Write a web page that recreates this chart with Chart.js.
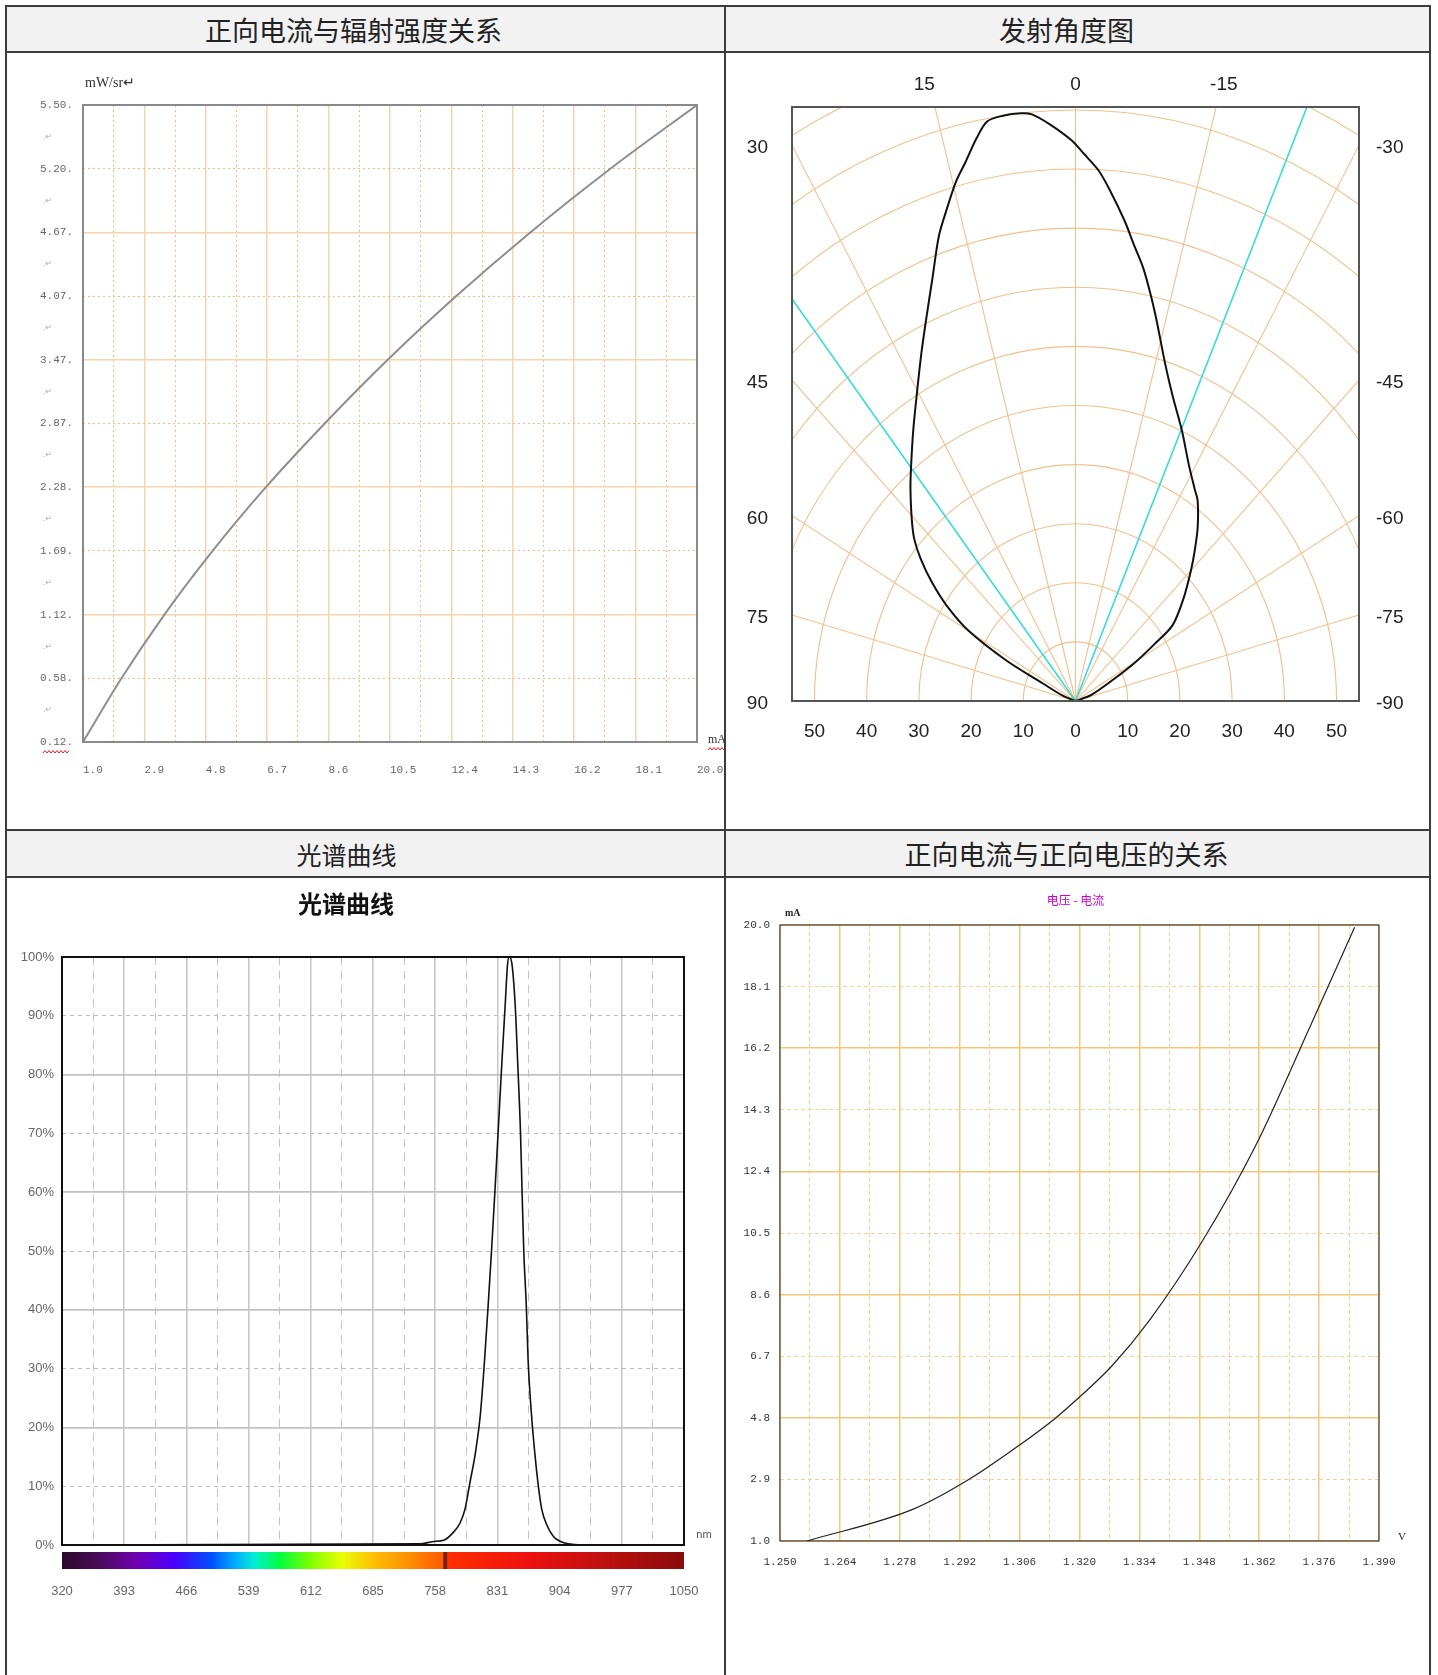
<!DOCTYPE html>
<html>
<head>
<meta charset="utf-8">
<script src="https://cdn.jsdelivr.net/npm/chart.js@4.4.1/dist/chart.umd.min.js"></script>
<style>
  body { margin: 0; background: #fff; width: 1438px; height: 1675px; overflow: hidden; position: relative;
         font-family: "Noto Sans CJK SC", sans-serif; }
  .ln { position: absolute; background: #3c3c3c; }
  .hd { position: absolute; box-sizing: border-box; background: #f2f2f2; color: #222; font-size: 27px;
        display: flex; align-items: center; justify-content: center; }
  .box { position: absolute; }
</style>
</head>
<body>
<!-- table frame -->
<div class="ln" style="left:5px;top:5px;width:1426px;height:2px"></div>
<div class="ln" style="left:5px;top:5px;width:2px;height:1670px"></div>
<div class="ln" style="left:1429px;top:5px;width:2px;height:1670px"></div>
<div class="ln" style="left:724px;top:5px;width:2px;height:1670px"></div>
<div class="ln" style="left:5px;top:51px;width:1426px;height:2px"></div>
<div class="ln" style="left:5px;top:829px;width:1426px;height:2px"></div>
<div class="ln" style="left:5px;top:876px;width:1426px;height:2px"></div>

<div class="hd" style="left:7px;top:7px;width:717px;height:44px;padding-right:24px">正向电流与辐射强度关系</div>
<div class="hd" style="left:726px;top:7px;width:703px;height:44px;padding-right:22px">发射角度图</div>
<div class="hd" style="left:7px;top:831px;width:717px;height:45px;padding-right:38px;font-size:25px">光谱曲线</div>
<div class="hd" style="left:726px;top:831px;width:703px;height:45px;padding-right:22px">正向电流与正向电压的关系</div>

<div class="box" style="left:7px;top:53px;width:717px;height:776px"><canvas id="ieChart"></canvas></div>
<div class="box" style="left:726px;top:53px;width:703px;height:776px"><canvas id="beamChart"></canvas></div>
<div class="box" style="left:7px;top:878px;width:717px;height:797px"><canvas id="specChart"></canvas></div>
<div class="box" style="left:726px;top:878px;width:703px;height:797px"><canvas id="viChart"></canvas></div>

<script>
"use strict";

// ── 正向电流与辐射强度关系 ──
const ieCurrent   = [1.0, 2.19, 3.52, 5.01, 6.66, 8.48, 10.43, 12.55, 14.84, 17.32, 20.0];   // mA
const ieIntensity = [0.12, 0.58, 1.12, 1.69, 2.28, 2.87, 3.47, 4.07, 4.67, 5.20, 5.50];     // mW/sr
const ieYTicks    = [0.12, 0.58, 1.12, 1.69, 2.28, 2.87, 3.47, 4.07, 4.67, 5.20, 5.50];

// ── 发射角度图 ──
const beamAngle = [90, 70, 64.6, 62.6, 59.9, 56.8, 53.9, 51.0, 48.5, 45.7,
                   41.4, 38.8, 34.2, 30.1, 26.6, 23.8, 21.0, 18.4, 16.5, 14.6,
                   13.0, 11.3, 9.8, 8.0, 6.0, 4.8, 2.8, 0.4, -1.0, -2.8,
                   -4.3, -6.6, -8.2, -10.0, -11.8, -13.4, -16.8, -19.8, -24.0, -28.6,
                   -32.5, -34.6, -38.6, -42.0, -45.1, -49.9, -55.4, -57.6, -60.2, -63.4,
                   -71.6, -90];
const beamRel   = [0, 2.5, 6.9, 15.0, 23.6, 29.5, 34.0, 38.1, 41.2, 43.8,
                   47.8, 50.3, 55.3, 60.5, 65.9, 70.8, 76.5, 82.9, 86.8, 90.8,
                   93.6, 97.0, 99.5, 100, 100, 99.6, 97.6, 94.8, 92.6, 89.9,
                   86.8, 81.8, 78.1, 74.5, 70.3, 66.6, 59.5, 54.9, 50.1, 45.4,
                   42.5, 41.2, 37.5, 34.1, 31.2, 27.1, 22.6, 17.8, 13.2, 8.1,
                   3.1, 0];
const halfAngles   = [38.6, -23.8];
const ringRadii    = [10, 20, 30, 40, 50, 60, 70, 80, 90, 100, 110];
const spokeAngles  = [-75, -60, -45, -30, -15, 0, 15, 30, 45, 60, 75];
const sideAngleLbl = [30, 45, 60, 75, 90];
const topAngleLbl  = [15, 0, -15];
const radialTicks  = [-50, -40, -30, -20, -10, 0, 10, 20, 30, 40, 50];

// ── 光谱曲线 ──
const specNm  = [320, 740, 756, 768, 779, 787, 793, 799, 805, 811, 816, 820, 824, 828, 832, 836, 840, 843, 845, 848,
                 852, 855, 858, 860, 862, 865, 867, 871, 875, 879, 883, 889, 897, 905, 914, 930, 1050];
const specRel = [0, 0.2, 0.6, 0.8, 2.1, 3.7, 6.1, 10.8, 15.5, 22.2, 31.6, 40.4, 49.8, 59.9, 70.6, 81.4, 91.5, 98.9, 100, 98.9,
                 91.5, 81.4, 70.6, 59.9, 49.8, 40.4, 31.6, 22.2, 15.5, 10.1, 6.1, 3.4, 1.4, 0.6, 0.2, 0, 0];

// ── 正向电流与正向电压 ──
const viVolt    = [1.2563, 1.2813, 1.2943, 1.3060, 1.3143, 1.3200, 1.3275, 1.3363, 1.3488, 1.3613, 1.3738, 1.3843];
const viCurrent = [1.0, 1.99, 2.91, 3.96, 4.78, 5.44, 6.39, 7.80, 10.27, 13.23, 16.84, 19.93];

Chart.defaults.animation = false;
Chart.defaults.plugins.legend.display = false;
Chart.defaults.plugins.tooltip.enabled = false;
Chart.defaults.font.family = "'Liberation Sans', sans-serif";

// helpers
const odd = c => c.index % 2 === 1;
const noPadX = s => { s.paddingLeft = 0; s.paddingRight = 0; };
const noPadY = s => { s.paddingTop = 0; s.paddingBottom = 0; };

function frame(color, width) {
  return {
    id: "frame",
    afterDatasetsDraw(chart) {
      const { ctx, chartArea: a } = chart;
      ctx.save();
      ctx.strokeStyle = color; ctx.lineWidth = width;
      ctx.strokeRect(a.left, a.top, a.right - a.left, a.bottom - a.top);
      ctx.restore();
    }
  };
}

function notes(items) {
  return {
    id: "notes",
    afterDraw(chart) {
      const { ctx, chartArea: a } = chart;
      ctx.save();
      ctx.textBaseline = "middle";
      items.forEach(n => {
        const p = n.at(a);
        if (n.wavy) {   // red spell-check squiggle
          ctx.beginPath(); ctx.strokeStyle = "#e02020"; ctx.lineWidth = 1;
          for (let i = 0; i <= n.wavy; i += 2) ctx[i ? "lineTo" : "moveTo"](p[0] + i, p[1] + ((i / 2) % 2 ? -1.5 : 1));
          ctx.stroke();
          return;
        }
        ctx.font = n.font; ctx.fillStyle = n.color; ctx.textAlign = n.align || "left";
        ctx.fillText(n.text, p[0], p[1]);
      });
      ctx.restore();
    }
  };
}

// piecewise position of a value on the unevenly labelled y axis
function ieToGrid(v) {
  for (let i = 0; i < ieYTicks.length - 1; i++) {
    if (v <= ieYTicks[i + 1]) return i + (v - ieYTicks[i]) / (ieYTicks[i + 1] - ieYTicks[i]);
  }
  return ieYTicks.length - 1;
}

/* 1. 正向电流与辐射强度关系 */
const ieMarks = ieYTicks.slice(1).map((_, k) => ({
  text: ".↵", at: a => [a.left - 40, a.bottom - (a.bottom - a.top) * (k + 0.5) / 10],
  font: "8px 'DejaVu Sans', sans-serif", color: "#aaa"
}));
new Chart(document.getElementById("ieChart"), {
  type: "scatter",
  data: { datasets: [{
    data: ieCurrent.map((c, i) => ({ x: c, y: ieToGrid(ieIntensity[i]) })),
    showLine: true, borderColor: "#8e8e8e", borderWidth: 2, pointRadius: 0, cubicInterpolationMode: "monotone"
  }]},
  options: {
    responsive: true, maintainAspectRatio: false,
    layout: { padding: { top: 52, right: 27, bottom: 47, left: 0 } },
    scales: {
      x: {
        type: "linear", min: 1, max: 20,
        afterFit: s => { s.height = 40; noPadX(s); },
        ticks: { stepSize: 0.95, autoSkip: false, maxRotation: 0, align: "start", padding: 21, color: "#666",
                 font: { family: "'Liberation Mono', monospace", size: 11 },
                 callback: (v, i) => (i % 2 ? "" : v.toFixed(1)) },
        grid: { drawTicks: false, color: c => (odd(c) ? "#f1bb85" : "#f7d4ae"), lineWidth: c => (odd(c) ? 1 : 1.5) },
        border: { display: false, dash: c => (odd(c) ? [2, 3] : []) }
      },
      y: {
        type: "linear", min: 0, max: 10,
        afterFit: s => { s.width = 76; noPadY(s); },
        ticks: { stepSize: 1, autoSkip: false, padding: 10, color: "#666",
                 font: { family: "'Liberation Mono', monospace", size: 11 },
                 callback: v => ieYTicks[v].toFixed(2) + "." },
        grid: { drawTicks: false, color: c => (odd(c) ? "#f1bb85" : "#f7d4ae"), lineWidth: c => (odd(c) ? 1 : 1.5) },
        border: { display: false, dash: c => (odd(c) ? [2, 3] : []) }
      }
    }
  },
  plugins: [frame("#8a8a8a", 2), notes([
    { text: "mW/sr↵", at: a => [a.left + 2, a.top - 22], font: "14px 'Liberation Serif', serif", color: "#333" },
    { text: "mA", at: a => [a.right + 11, a.bottom - 2], font: "12px 'Liberation Serif', serif", color: "#333" },
    { wavy: 18, at: a => [a.right + 11, a.bottom + 7] },
    { wavy: 26, at: a => [a.left - 40, a.bottom + 10] },
    ...ieMarks
  ])]
});

/* 2. 发射角度图 */
const rad = d => d * Math.PI / 180;
const polarGrid = {
  id: "polarGrid",
  beforeDatasetsDraw(chart) {
    const { ctx, chartArea: a, scales: { x: xs, y: ys } } = chart;
    const cx = xs.getPixelForValue(0), cy = ys.getPixelForValue(0);
    ctx.save();
    ctx.beginPath(); ctx.rect(a.left, a.top, a.right - a.left, a.bottom - a.top); ctx.clip();
    ctx.strokeStyle = "#f2c08e"; ctx.lineWidth = 1.1;
    ringRadii.forEach(r => {
      ctx.beginPath();
      ctx.ellipse(cx, cy, xs.getPixelForValue(r) - cx, cy - ys.getPixelForValue(r), 0, Math.PI, 2 * Math.PI);
      ctx.stroke();
    });
    spokeAngles.forEach(d => {
      ctx.beginPath();
      ctx.moveTo(cx, cy);
      ctx.lineTo(xs.getPixelForValue(-200 * Math.sin(rad(d))), ys.getPixelForValue(200 * Math.cos(rad(d))));
      ctx.stroke();
    });
    ctx.restore();
  },
  afterDraw(chart) {
    const { ctx, chartArea: a, scales: { x: xs, y: ys } } = chart;
    ctx.save();
    ctx.fillStyle = "#222"; ctx.font = "19px 'Liberation Sans', sans-serif"; ctx.textBaseline = "middle";
    sideAngleLbl.forEach(d => {
      const y = d === 90 ? ys.getPixelForValue(0) : ys.getPixelForValue(xs.max / Math.tan(rad(d)));
      ctx.textAlign = "right"; ctx.fillText(String(d), a.left - 24, y + 3);
      ctx.textAlign = "left";  ctx.fillText("-" + d, a.right + 17, y + 3);
    });
    topAngleLbl.forEach(d => {
      const x = xs.getPixelForValue(-ys.max * Math.tan(rad(d)));
      ctx.textAlign = d > 0 ? "right" : d < 0 ? "left" : "center";
      ctx.fillText(String(d), x + (d < 0 ? -6 : 0), a.top - 22);
    });
    ctx.restore();
  }
};

new Chart(document.getElementById("beamChart"), {
  type: "scatter",
  data: { datasets: [
    { data: beamAngle.map((d, i) => ({ x: -beamRel[i] * Math.sin(rad(d)), y: beamRel[i] * Math.cos(rad(d)) })),
      showLine: true, borderColor: "#111", borderWidth: 2, pointRadius: 0, tension: 0.3 },
    ...halfAngles.map(d => ({
      data: [{ x: 0, y: 0 }, { x: -200 * Math.sin(rad(d)), y: 200 * Math.cos(rad(d)) }],
      showLine: true, borderColor: "#35dcdc", borderWidth: 1.6, pointRadius: 0
    }))
  ]},
  options: {
    responsive: true, maintainAspectRatio: false,
    layout: { padding: { top: 54, right: 70, bottom: 88, left: 66 } },
    scales: {
      x: {
        type: "linear", min: -54.3, max: 54.3,
        afterBuildTicks: s => { s.ticks = radialTicks.map(v => ({ value: v })); },
        afterFit: s => { s.height = 40; noPadX(s); },
        ticks: { autoSkip: false, maxRotation: 0, padding: 19, color: "#222",
                 font: { family: "'Liberation Sans', sans-serif", size: 19 },
                 callback: v => String(Math.abs(v)) },
        grid: { display: false, drawTicks: false },
        border: { display: false }
      },
      y: { type: "linear", min: 0, max: 100.5, display: false }
    }
  },
  plugins: [polarGrid, frame("#555", 2)]
});

/* 3. 光谱曲线 */
const rainbow = {
  id: "rainbow",
  afterDraw(chart) {
    const { ctx, chartArea: a, scales: { x: xs } } = chart;
    const x0 = xs.getPixelForValue(320), x1 = xs.getPixelForValue(1050);
    const g = ctx.createLinearGradient(x0, 0, x1, 0);
    [[0, "#2a0a2a"], [0.06, "#4b0b5b"], [0.12, "#7000b0"], [0.18, "#4a00ff"], [0.24, "#0050ff"],
     [0.28, "#00b0ff"], [0.31, "#00f0d0"], [0.35, "#00ff40"], [0.40, "#80ff00"], [0.45, "#e8ff00"],
     [0.50, "#ffc000"], [0.56, "#ff8c00"], [0.612, "#ff5a00"], [0.614, "#702000"], [0.618, "#702000"],
     [0.62, "#ff3000"], [0.75, "#ee1010"], [0.87, "#c01010"], [1, "#8a0a0a"]].forEach(s => g.addColorStop(s[0], s[1]));
    ctx.save();
    ctx.fillStyle = g;
    ctx.fillRect(x0, a.bottom + 7, x1 - x0, 17);
    ctx.restore();
  }
};

new Chart(document.getElementById("specChart"), {
  type: "scatter",
  data: { datasets: [{
    data: specNm.map((n, i) => ({ x: n, y: specRel[i] })),
    showLine: true, borderColor: "#111", borderWidth: 1.6, pointRadius: 0, cubicInterpolationMode: "monotone"
  }]},
  options: {
    responsive: true, maintainAspectRatio: false,
    layout: { padding: { top: 79, right: 40, bottom: 70, left: 0 } },
    scales: {
      x: {
        type: "linear", min: 320, max: 1050,
        afterFit: s => { s.height = 60; noPadX(s); },
        ticks: { stepSize: 36.5, autoSkip: false, maxRotation: 0, padding: 39, color: "#666",
                 font: { family: "'Liberation Sans', sans-serif", size: 13 },
                 callback: (v, i) => (i % 2 ? "" : String(Math.round(v))) },
        grid: { drawTicks: false, color: c => (odd(c) ? "#c2c2c2" : "#c6c6c6"), lineWidth: c => (odd(c) ? 1 : 1.5) },
        border: { display: false, dash: c => (odd(c) ? [8, 6] : []) }
      },
      y: {
        type: "linear", min: 0, max: 100,
        afterFit: s => { s.width = 55; noPadY(s); },
        ticks: { stepSize: 10, autoSkip: false, padding: 8, color: "#666",
                 font: { family: "'Liberation Sans', sans-serif", size: 13 },
                 callback: v => v + "%" },
        grid: { drawTicks: false, color: c => (odd(c) ? "#bdbdbd" : "#c2c2c2"), lineWidth: c => (odd(c) ? 1 : 1.8) },
        border: { display: false, dash: c => (odd(c) ? [4, 4] : []) }
      }
    }
  },
  plugins: [frame("#111", 2), rainbow, notes([
    { text: "光谱曲线", at: a => [(a.left + a.right) / 2 - 27, a.top - 53], align: "center",
      font: "bold 24px 'Noto Sans CJK SC', sans-serif", color: "#111" },
    { text: "nm", at: a => [a.right + 20, a.bottom - 10], align: "center",
      font: "11px 'Liberation Sans', sans-serif", color: "#555" }
  ])]
});

/* 4. 正向电流与正向电压的关系 */
new Chart(document.getElementById("viChart"), {
  type: "scatter",
  data: { datasets: [{
    data: viVolt.map((v, i) => ({ x: v, y: viCurrent[i] })),
    showLine: true, borderColor: "#222", borderWidth: 1.2, pointRadius: 0, cubicInterpolationMode: "monotone"
  }]},
  options: {
    responsive: true, maintainAspectRatio: false,
    layout: { padding: { top: 47, right: 50, bottom: 94, left: 0 } },
    scales: {
      x: {
        type: "linear", min: 1.25, max: 1.39,
        afterFit: s => { s.height = 40; noPadX(s); },
        ticks: { stepSize: 0.007, autoSkip: false, maxRotation: 0, padding: 14, color: "#333",
                 font: { family: "'Liberation Mono', monospace", size: 11 },
                 callback: (v, i) => (i % 2 ? "" : v.toFixed(3)) },
        grid: { drawTicks: false, color: c => (odd(c) ? "#f5d09c" : "#f3c67a"), lineWidth: c => (odd(c) ? 1 : 1.5) },
        border: { display: false, dash: c => (odd(c) ? [4, 3] : []) }
      },
      y: {
        type: "linear", min: 1, max: 20,
        afterFit: s => { s.width = 54; noPadY(s); },
        ticks: { stepSize: 1.9, autoSkip: false, padding: 10, color: "#333",
                 font: { family: "'Liberation Mono', monospace", size: 11 },
                 callback: v => v.toFixed(1) },
        grid: { drawTicks: false, color: c => (odd(c) ? "#f5d09c" : "#f3c67a"), lineWidth: c => (odd(c) ? 1 : 1.5) },
        border: { display: false, dash: c => (odd(c) ? [4, 3] : []) }
      }
    }
  },
  plugins: [frame("#222", 1), notes([
    { text: "电压 - 电流", at: a => [(a.left + a.right) / 2 - 4, a.top - 25], align: "center",
      font: "12px 'Noto Sans CJK SC', sans-serif", color: "#d000d0" },
    { text: "mA", at: a => [a.left + 5, a.top - 12], font: "bold 10px 'Liberation Serif', serif", color: "#222" },
    { text: "V", at: a => [a.right + 19, a.bottom - 4], font: "11px 'Liberation Serif', serif", color: "#222" }
  ])]
});
</script>
</body>
</html>
